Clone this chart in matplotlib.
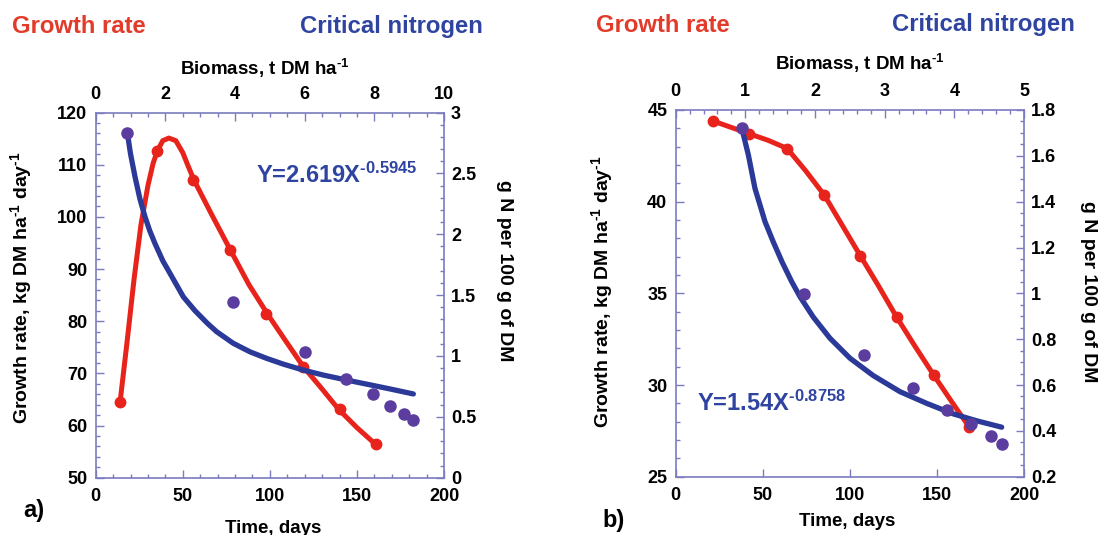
import matplotlib
matplotlib.use('Agg')
import matplotlib.pyplot as plt
from matplotlib.ticker import MultipleLocator, FormatStrFormatter

plt.rcParams['font.family'] = ['Liberation Sans', 'DejaVu Sans']
plt.rcParams['font.weight'] = 'bold'
plt.rcParams['mathtext.fontset'] = 'custom'
plt.rcParams['mathtext.rm'] = 'Liberation Sans:bold'
plt.rcParams['mathtext.it'] = 'Liberation Sans:bold'
plt.rcParams['mathtext.bf'] = 'Liberation Sans:bold'

# ---------------- data: panel a ----------------
a_days = [14, 35, 56, 77, 98, 119, 140, 161]
a_growth = [64.5, 112.7, 107.0, 93.6, 81.3, 71.2, 63.1, 56.4]
a_curve_days = [14, 18, 22, 26, 30, 33, 35.5, 38.5, 42, 46, 50, 53, 56.5, 66.5, 77.4,
                88, 98.8, 108.5, 119.4, 130, 139.5, 150, 160.7]
a_curve_growth = [64.5, 76, 88, 98.5, 106, 110.3, 112.7, 114.6, 115.1, 114.6, 112.3, 109.8, 107,
                  100.5, 93.6, 87, 81.3, 76.5, 71.2, 67, 63.1, 59.6, 56.4]
a_biomass = [0.91, 3.95, 6.0, 7.19, 7.97, 8.46, 8.86, 9.12]
a_nitrogen = [2.83, 1.445, 1.03, 0.81, 0.69, 0.59, 0.52, 0.47]
a_fit_biomass = [0.91, 1.0, 1.13, 1.27, 1.415, 1.55, 1.70, 1.93, 2.18, 2.515, 2.85, 3.2, 3.474,
                 3.95, 4.43, 4.91, 5.386, 5.96, 6.535, 7.206, 7.875, 8.45, 9.12]
a_fit_nitrogen = [2.83, 2.66, 2.47, 2.29, 2.144, 2.03, 1.925, 1.78, 1.655, 1.486, 1.372, 1.27, 1.199,
                  1.104, 1.034, 0.98, 0.933, 0.884, 0.843, 0.802, 0.763, 0.729, 0.688]

# ---------------- data: panel b ----------------
b_days = [21.5, 42.3, 64, 85.4, 106, 126.9, 148.1, 168.6]
b_growth = [44.4, 43.7, 42.9, 40.35, 37.05, 33.7, 30.55, 27.7]
b_curve_days = [21.5, 42.3, 53, 64, 74.5, 85.4, 95.7, 106, 116.5, 126.9, 137.5, 148.1, 158.4, 168.6]
b_curve_growth = [44.4, 43.7, 43.35, 42.9, 41.7, 40.35, 38.7, 37.05, 35.4, 33.7, 32.1, 30.55, 29.1, 27.7]
b_biomass = [0.945, 1.84, 2.71, 3.40, 3.90, 4.24, 4.52, 4.69]
b_nitrogen = [1.723, 0.997, 0.731, 0.585, 0.490, 0.430, 0.379, 0.343]
b_fit_biomass = [0.947, 1.043, 1.138, 1.282, 1.40, 1.53, 1.665, 1.785, 1.976, 2.215, 2.502, 2.837,
                 3.22, 3.603, 3.985, 4.32, 4.68]
b_fit_nitrogen = [1.723, 1.604, 1.458, 1.313, 1.225, 1.135, 1.051, 0.985, 0.896, 0.804, 0.717, 0.641,
                  0.571, 0.520, 0.474, 0.444, 0.416]

a_equation = r"Y=2.619X$^{\text{-0.5945}}$"
b_equation = r"Y=1.54X$^{\text{-0.8758}}$"

RED = '#e8231c'
RED_TXT = '#e23b2a'
BLUE_LINE = '#2b3a98'
BLUE_TXT = '#2f44a0'
PURPLE = '#5b3d9f'
SPINE = '#7b7bbf'

W, H = 1098, 535
fig = plt.figure(figsize=(W / 100, H / 100), dpi=100)


def rect(x0, y0, x1, y1):
    return [x0 / W, 1 - y1 / H, (x1 - x0) / W, (y1 - y0) / H]


def ftext(x, y, s, **kw):
    fig.text(x / W, 1 - y / H, s, **kw)


def make_panel(r, tag, days, growth, cdays, cgrowth, biomass, nitro, fbio, fnit,
               glim, gmaj, gmin, tminor, blim, bmaj, bmin, nlim, nmaj, nmin, nfmt):
    ax = fig.add_axes(rect(*r))
    ax.plot(cdays, cgrowth, color=RED, lw=3.6, solid_capstyle='round', solid_joinstyle='round', zorder=2)
    ax.plot(days, growth, 'o', color=RED, ms=7.5, mec=RED, zorder=3)
    ax.set_xlim(0, 200)
    ax.set_ylim(*glim)
    ax.xaxis.set_major_locator(MultipleLocator(50))
    if tminor:
        ax.xaxis.set_minor_locator(MultipleLocator(tminor))
    ax.yaxis.set_major_locator(MultipleLocator(gmaj))
    ax.yaxis.set_minor_locator(MultipleLocator(gmin))
    for s in ax.spines.values():
        s.set_color(SPINE)
        s.set_linewidth(1.2)
    ax.tick_params(which='both', direction='in', color=SPINE, top=False, right=False, width=1)
    ax.tick_params(axis='x', which='major', length=5.5, labelsize=13, pad=7.5)
    ax.tick_params(axis='y', which='major', length=5.5, labelsize=13, pad=6)
    ax.tick_params(which='minor', length=3)

    axn = fig.add_axes(rect(*r), label='n' + tag)
    axn.patch.set_visible(False)
    for s in axn.spines.values():
        s.set_visible(False)
    axn.plot(fbio, fnit, color=BLUE_LINE, lw=3.8, solid_capstyle='round', solid_joinstyle='round', zorder=2)
    axn.plot(biomass, nitro, 'o', color=PURPLE, ms=8, mec=PURPLE, zorder=3)
    axn.set_xlim(*blim)
    axn.set_ylim(*nlim)
    axn.xaxis.set_major_locator(MultipleLocator(bmaj))
    axn.xaxis.set_minor_locator(MultipleLocator(bmin))
    axn.yaxis.set_major_locator(MultipleLocator(nmaj))
    axn.yaxis.set_minor_locator(MultipleLocator(nmin))
    axn.yaxis.set_major_formatter(FormatStrFormatter(nfmt))
    axn.xaxis.set_major_formatter(FormatStrFormatter('%g'))
    axn.tick_params(axis='x', which='both', direction='in', top=True, bottom=False,
                    labeltop=True, labelbottom=False, color=SPINE, width=1)
    axn.tick_params(axis='y', which='both', direction='in', right=True, left=False,
                    labelright=True, labelleft=False, color=SPINE, width=1)
    axn.tick_params(axis='x', which='major', length=5.5, labelsize=13, pad=7)
    axn.tick_params(axis='y', which='major', length=5.5, labelsize=13, pad=5)
    axn.tick_params(which='minor', length=3)
    return ax, axn


ax_a, axn_a = make_panel((95.7, 112.5, 444, 477.7), 'a', a_days, a_growth, a_curve_days, a_curve_growth,
                         a_biomass, a_nitrogen, a_fit_biomass, a_fit_nitrogen,
                         (50, 120), 10, 2, 10, (0, 10), 2, 0.5, (0, 3), 0.5, 0.1, '%g')
ax_b, axn_b = make_panel((675.7, 110, 1024, 476.7), 'b', b_days, b_growth, b_curve_days, b_curve_growth,
                         b_biomass, b_nitrogen, b_fit_biomass, b_fit_nitrogen,
                         (25, 45), 5, 1, None, (0, 5), 1, 0.2, (0.2, 1.8), 0.2, 0.05, '%g')

# equations
ax_a.text(92, 106.5, a_equation, color=BLUE_TXT, fontsize=17, ha='left', va='baseline')
ax_b.text(12.2, 28.6, b_equation, color=BLUE_TXT, fontsize=17, ha='left', va='baseline')

# headers
for x0, xc, y in [(12, 300, 33), (595.6, 892, 31.5)]:
    ftext(x0, y, 'Growth rate', color=RED_TXT, fontsize=17.2, ha='left', va='baseline')
    ftext(xc, y, 'Critical nitrogen', color=BLUE_TXT, fontsize=17.2, ha='left', va='baseline')

lab = 13.5
ylab = r'Growth rate, kg DM ha$^{\text{-1}}$ day$^{\text{-1}}$'
blab = r'Biomass, t DM ha$^{\text{-1}}$'
ftext(265, 75.5, blab, fontsize=lab, ha='center', va='baseline')
ftext(860, 70, blab, fontsize=lab, ha='center', va='baseline')
ftext(273, 533, 'Time, days', fontsize=lab, ha='center', va='baseline')
ftext(847, 526.5, 'Time, days', fontsize=lab, ha='center', va='baseline')
ftext(21, 287.5, ylab, fontsize=14, rotation=90, ha='center', va='center')
ftext(602, 292, ylab, fontsize=14, rotation=90, ha='center', va='center')
ftext(505, 271, 'g N per 100 g of DM', fontsize=14, rotation=270, ha='center', va='center')
ftext(1088, 292, 'g N per 100 g of DM', fontsize=14, rotation=270, ha='center', va='center')
ftext(23, 516.5, 'a)', fontsize=17, ha='left', va='baseline')
ftext(602.5, 526.5, 'b)', fontsize=17, ha='left', va='baseline')

fig.savefig('out.png', dpi=100)
